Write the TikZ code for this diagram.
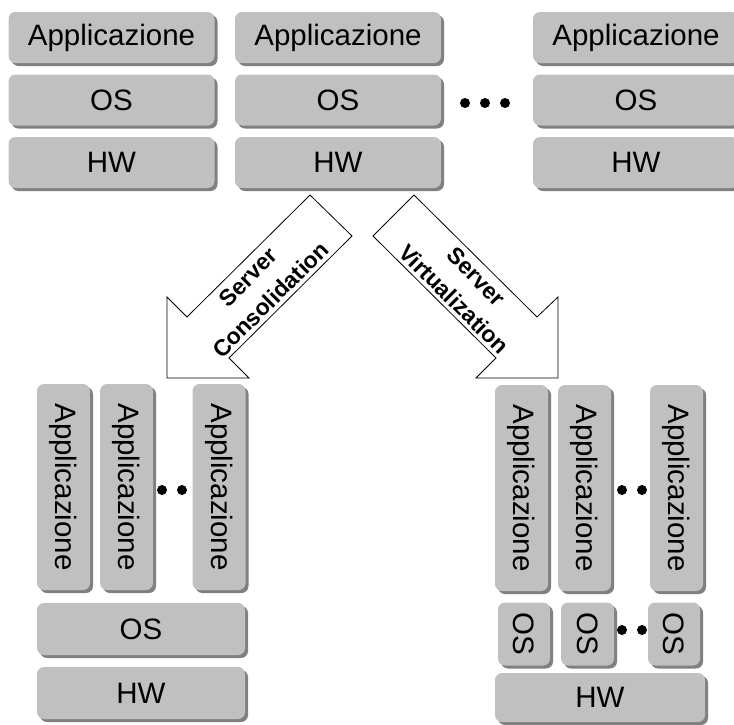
\documentclass[tikz,border=0pt]{standalone}
\usepackage{fontspec}
\usepackage{graphicx}
\setmainfont{Liberation Sans}
\usetikzlibrary{shadows}
\definecolor{boxgray}{RGB}{192,192,192}
\definecolor{shadowgray}{RGB}{128,128,128}
\newcommand{\vtext}[1]{\rotatebox[origin=c]{-90}{#1}}
\begin{document}
\begin{tikzpicture}[x=1pt,y=-1pt,
  blk/.style={fill=boxgray, rounded corners=7pt, inner sep=0pt,
    drop shadow={shadow xshift=3pt, shadow yshift=-3pt, fill=shadowgray, opacity=1},
    font=\fontsize{29.5}{34}\selectfont, text=black},
  hblk/.style={blk, minimum width=206pt, minimum height=51pt},
  vblk/.style={blk, minimum width=53pt, minimum height=206pt},
  dotn/.style={circle, fill=black, inner sep=0pt, minimum size=10pt},
  bigarrow/.style={draw=black, fill=white, line width=0.8pt, line join=miter},
  arrowtext/.style={font=\fontsize{23}{32}\selectfont\bfseries, align=center}
]
\useasboundingbox (0,0) rectangle (734,724);

% top columns
\node[hblk] (a1) at (111.5,37.5) {Applicazione};
\node[hblk] (o1) at (111.5,100) {OS};
\node[hblk] (h1) at (111.5,162.5) {HW};
\node[hblk] (a2) at (338,37.5) {Applicazione};
\node[hblk] (o2) at (338,100) {OS};
\node[hblk] (h2) at (338,162.5) {HW};
\node[hblk] (a3) at (636,37.5) {Applicazione};
\node[hblk] (o3) at (636,100) {OS};
\node[hblk] (h3) at (636,162.5) {HW};
\node[dotn] (td1) at (465,103) {};
\node[dotn] (td2) at (485,103) {};
\node[dotn] (td3) at (505,103) {};

% arrows
\coordinate (l1) at (310,195);
\coordinate (l2) at (352,236);
\coordinate (l3) at (229,358);
\coordinate (l4) at (249,378);
\coordinate (l5) at (167,378);
\coordinate (l6) at (167,297);
\coordinate (l7) at (187,317);
\draw[bigarrow] (l1) -- (l2) -- (l3) -- (l4) -- (l5) -- (l6) -- (l7) -- cycle;
\coordinate (r1) at (414,195);
\coordinate (r2) at (373,236);
\coordinate (r3) at (496,358);
\coordinate (r4) at (476,378);
\coordinate (r5) at (558,378);
\coordinate (r6) at (558,297);
\coordinate (r7) at (537,317);
\draw[bigarrow] (r1) -- (r2) -- (r3) -- (r4) -- (r5) -- (r6) -- (r7) -- cycle;
\node[arrowtext, rotate=45] (lt) at (259.5,288.5) {Server\\Consolidation};
\node[arrowtext, rotate=-45] (rt) at (465,288) {Server\\Virtualization};

% bottom left
\node[vblk] (bla1) at (63.5,487) {\vtext{Applicazione}};
\node[vblk] (bla2) at (126.5,487) {\vtext{Applicazione}};
\node[vblk] (bla3) at (219,487) {\vtext{Applicazione}};
\node[dotn] (bld1) at (162,490) {};
\node[dotn] (bld2) at (182,490) {};
\node[blk, minimum width=208pt, minimum height=52pt] (blo) at (141,629) {OS};
\node[blk, minimum width=208pt, minimum height=52pt] (blh) at (141,693) {HW};

% bottom right
\node[vblk] (bra1) at (521.5,488) {\vtext{Applicazione}};
\node[vblk] (bra2) at (584.5,488) {\vtext{Applicazione}};
\node[vblk] (bra3) at (676.5,488) {\vtext{Applicazione}};
\node[dotn] (brd1) at (622,490) {};
\node[dotn] (brd2) at (642,490) {};
\node[blk, minimum width=52pt, minimum height=63pt] (bro1) at (524,634) {\vtext{OS}};
\node[blk, minimum width=53pt, minimum height=63pt] (bro2) at (587.5,634) {\vtext{OS}};
\node[blk, minimum width=52pt, minimum height=63pt] (bro3) at (674,634) {\vtext{OS}};
\node[dotn] (brd3) at (622,630) {};
\node[dotn] (brd4) at (642,630) {};
\node[blk, minimum width=210pt, minimum height=49pt] (brh) at (600,697.5) {HW};
\end{tikzpicture}
\end{document}
